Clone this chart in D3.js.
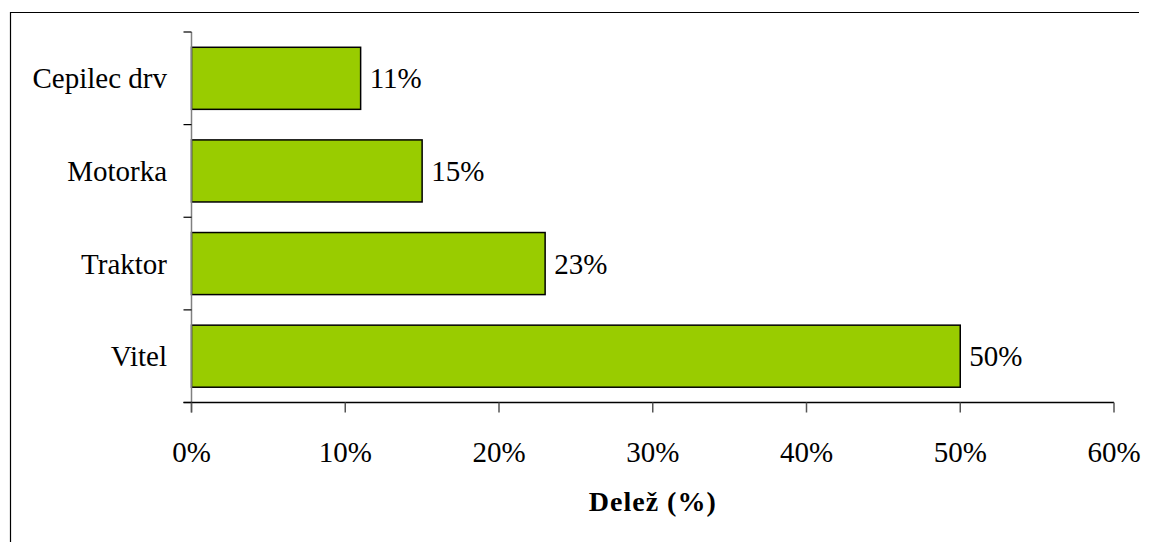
<!DOCTYPE html>
<html>
<head>
<meta charset="utf-8">
<script src="https://cdn.jsdelivr.net/npm/d3@7"></script>
<style>
  html, body { margin: 0; padding: 0; background: #fff; }
  svg { display: block; }
  text { font-family: "Liberation Serif", "Times New Roman", serif; fill: #000; }
</style>
</head>
<body>
<svg id="chart" width="1149" height="542"></svg>
<script>
const categories = ["Cepilec drv", "Motorka", "Traktor", "Vitel"];
const values = [11, 15, 23, 50];
const xTicks = [0, 10, 20, 30, 40, 50, 60];
const xTitle = "Delež (%)";

(function () {
const svg = d3.select("#chart");
const W = 1149, H = 542;
const pLeft = 191.5, pRight = 1114, pTop = 32, pBottom = 402.5;
const fs = 29;

// frame
svg.append("path")
  .attr("d", `M10.5,${H} L10.5,12.5 L1139,12.5`)
  .attr("fill", "none").attr("stroke", "#000").attr("stroke-width", 1.2);

const x = d3.scaleLinear().domain([0, 60]).range([pLeft, pRight]);
const y = d3.scaleBand().domain(categories).range([pTop, pBottom])
  .paddingInner(0.33).paddingOuter(0.165);

// bars
svg.append("g").selectAll("rect").data(values).join("rect")
  .attr("x", x(0))
  .attr("y", (d, i) => y(categories[i]))
  .attr("width", d => x(d) - x(0))
  .attr("height", y.bandwidth())
  .attr("fill", "#99CC00")
  .attr("stroke", "#000")
  .attr("stroke-width", 1.5);

// y axis
const yAxis = svg.append("g");
yAxis.append("line")
  .attr("x1", pLeft).attr("x2", pLeft).attr("y1", pTop).attr("y2", pBottom + 10)
  .attr("stroke", "#808080").attr("stroke-width", 1.5);
const step = y.step();
const yTickPos = d3.range(categories.length + 1).map(i => pTop + i * step);
yAxis.selectAll("line.t").data(yTickPos).join("line").attr("class", "t")
  .attr("x1", pLeft - 8).attr("x2", pLeft).attr("y1", d => d).attr("y2", d => d)
  .attr("stroke", "#000").attr("stroke-width", 1.2);
yAxis.selectAll("text").data(categories).join("text")
  .attr("x", 167)
  .attr("y", d => y(d) + y.bandwidth() / 2)
  .attr("dy", "0.35em")
  .attr("text-anchor", "end")
  .attr("font-size", fs)
  .text(d => d);

// x axis
const xAxis = svg.append("g");
xAxis.append("line")
  .attr("x1", pLeft - 8).attr("x2", pRight).attr("y1", pBottom).attr("y2", pBottom)
  .attr("stroke", "#000").attr("stroke-width", 1.5);
xAxis.selectAll("line.t").data(xTicks).join("line").attr("class", "t")
  .attr("x1", d => x(d)).attr("x2", d => x(d))
  .attr("y1", pBottom).attr("y2", pBottom + 10)
  .attr("stroke", "#555").attr("stroke-width", 1.5);
xAxis.selectAll("text").data(xTicks).join("text")
  .attr("x", d => x(d))
  .attr("y", 462)
  .attr("text-anchor", "middle")
  .attr("font-size", fs)
  .text(d => d + "%");

// value labels
svg.append("g").selectAll("text").data(values).join("text")
  .attr("x", d => x(d) + 9)
  .attr("y", (d, i) => y(categories[i]) + y.bandwidth() / 2)
  .attr("dy", "0.35em")
  .attr("font-size", fs)
  .text(d => d + "%");

// x title
svg.append("text")
  .attr("x", (pLeft + pRight) / 2)
  .attr("y", 511)
  .attr("text-anchor", "middle")
  .attr("font-size", 28)
  .attr("font-weight", "bold")
  .attr("letter-spacing", 1)
  .text(xTitle);
})();
</script>
</body>
</html>
